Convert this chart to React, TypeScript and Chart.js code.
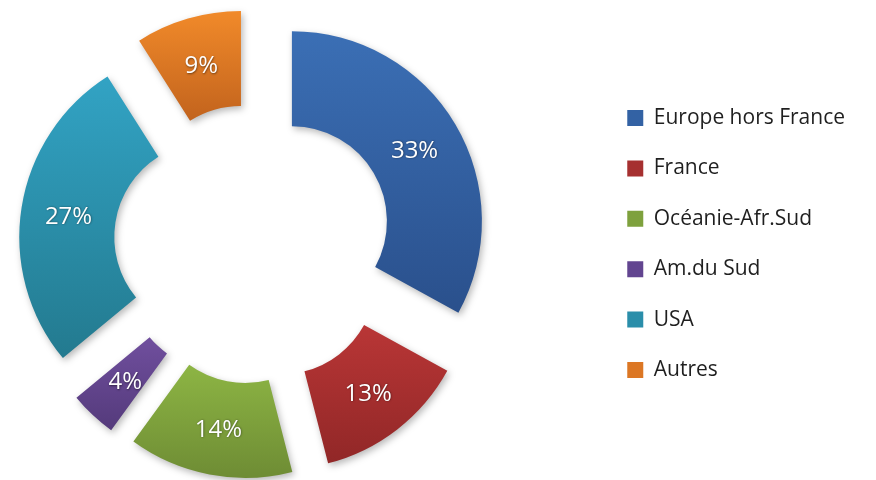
import React, { useEffect, useRef } from 'react';
import { Chart, registerables } from 'chart.js';

Chart.register(...registerables);

// ---- data ----
const categories = ['Europe hors France', 'France', 'Océanie-Afr.Sud', 'Am.du Sud', 'USA', 'Autres'];
const shares = [33, 13, 14, 4, 27, 9];

// ---- styles ----
const topColors = ['#3B6FB5', '#B93636', '#8DB544', '#704F9E', '#32A3C4', '#F18A2A'];
const bottomColors = ['#2A508C', '#912727', '#6E8C34', '#543A7B', '#237A8F', '#C2631D'];
const legendColors = ['#3362A4', '#A63030', '#7EA13D', '#624590', '#2A8EAA', '#DC7724'];

const EXPLODE = 44.7;
const CANVAS_W = 946;
const CANVAS_H = 480;
const CANVAS_LEFT = -91;

const explodePlugin = {
  id: 'explodeSlices',
  beforeDatasetDraw(chart: any, args: any) {
    const ctx: CanvasRenderingContext2D = chart.ctx;
    const meta = args.meta;
    const offsets: { dx: number; dy: number }[] = [];
    meta.data.forEach((arc: any, i: number) => {
      const { startAngle, endAngle, innerRadius, outerRadius, x, y } = arc.getProps(
        ['startAngle', 'endAngle', 'innerRadius', 'outerRadius', 'x', 'y'],
        true
      );
      const half = (startAngle + endAngle) / 2;
      const dx = Math.cos(half) * EXPLODE;
      const dy = Math.sin(half) * EXPLODE;
      offsets.push({ dx, dy });
      let minY = Infinity;
      let maxY = -Infinity;
      for (let k = 0; k <= 40; k++) {
        const a = startAngle + ((endAngle - startAngle) * k) / 40;
        for (const rr of [innerRadius, outerRadius]) {
          const py = y + Math.sin(a) * rr;
          if (py < minY) minY = py;
          if (py > maxY) maxY = py;
        }
      }
      const g = ctx.createLinearGradient(0, minY, 0, maxY);
      g.addColorStop(0, topColors[i]);
      g.addColorStop(1, bottomColors[i]);
      ctx.save();
      ctx.translate(dx, dy);
      ctx.shadowColor = 'rgba(0,0,0,0.28)';
      ctx.shadowBlur = 7;
      ctx.shadowOffsetX = 2;
      ctx.shadowOffsetY = 3;
      const orig = arc.options;
      arc.options = Object.assign({}, orig, { backgroundColor: g });
      arc.draw(ctx);
      arc.options = orig;
      ctx.restore();
    });
    // labels
    meta.data.forEach((arc: any, i: number) => {
      const pos = arc.tooltipPosition(true);
      const { dx, dy } = offsets[i];
      ctx.save();
      ctx.font = '24px "Open Sans"';
      ctx.textAlign = 'center';
      ctx.textBaseline = 'middle';
      ctx.shadowColor = 'rgba(0,0,0,0.5)';
      ctx.shadowBlur = 2;
      ctx.shadowOffsetX = 0.5;
      ctx.shadowOffsetY = 0.5;
      ctx.fillStyle = '#FFFFFF';
      ctx.fillText(shares[i] + '%', pos.x + dx, pos.y + dy + 2);
      ctx.restore();
    });
    return false;
  },
};

export default function App() {
  const canvasRef = useRef<HTMLCanvasElement | null>(null);

  useEffect(() => {
    if (!canvasRef.current) return;
    const chart = new Chart(canvasRef.current, {
      type: 'doughnut',
      data: {
        labels: categories,
        datasets: [
          {
            data: shares,
            backgroundColor: legendColors,
            borderWidth: 0,
          },
        ],
      },
      options: {
        responsive: false,
        animation: false,
        events: [],
        radius: 190,
        cutout: '50%',
        layout: { padding: { top: 8 } },
        plugins: {
          legend: {
            position: 'right',
            labels: {
              boxWidth: 16,
              boxHeight: 16,
              padding: 29.4,
              color: '#1F1F1F',
              font: { family: '"Open Sans"', size: 21 },
            },
          },
          tooltip: { enabled: false },
        },
      },
      plugins: [explodePlugin],
    });
    return () => chart.destroy();
  }, []);

  return (
    <div style={{ position: 'absolute', left: CANVAS_LEFT, top: 0, width: CANVAS_W, height: CANVAS_H }}>
      <canvas ref={canvasRef} width={CANVAS_W} height={CANVAS_H} />
    </div>
  );
}
